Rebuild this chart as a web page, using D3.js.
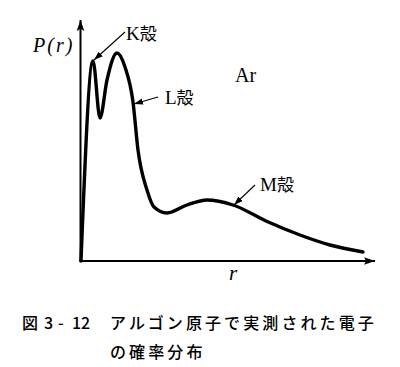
<!DOCTYPE html>
<html><head><meta charset="utf-8">
<script src="https://cdn.jsdelivr.net/npm/d3@7"></script>
<style>body{margin:0;background:#fff}svg{display:block}</style>
</head><body>
<svg id="c" width="400" height="367"></svg>
<script>
// radial distance r (arbitrary units) and probability P(r) (arbitrary units)
const rValues = [0, 12, 19, 26, 36, 44, 52, 57, 66, 73, 86, 106, 126, 152, 185, 219, 249, 282];
const pValues = [0, 200, 143, 181, 208, 194, 159, 111, 71, 54, 48, 56, 61, 56, 40, 26, 16, 9];
const shellLabels = ["K殻", "L殻", "M殻"];
const shellArrowFrom = [[44, 229], [77, 164], [174, 76]];
const shellArrowTo = [[13, 201], [53, 157], [153, 56]];
const shellTextAt = [[45, 221], [84, 157], [179, 70]];
const atomLabel = "Ar";
const atomAt = [154, 179];
const yLabel = "P(r)";
const xLabel = "r";
const captionNo = ["図", "3", "-", "12"];
const captionLines = ["アルゴン原子で実測された電子", "の確率分布"];

const svg = d3.select("#c");
const x = d3.scaleLinear().domain([0, 294]).range([81, 375]);
const y = d3.scaleLinear().domain([0, 241]).range([261, 20]);

const defs = svg.append("defs");
defs.append("marker").attr("id", "ah").attr("viewBox", "0 0 10 10")
  .attr("refX", 10).attr("refY", 5).attr("markerWidth", 9).attr("markerHeight", 9)
  .attr("markerUnits", "userSpaceOnUse").attr("orient", "auto")
  .append("path").attr("d", "M0,1.5L10,5L0,8.5Z").attr("fill", "#000");
defs.append("marker").attr("id", "ax").attr("viewBox", "0 0 10 10")
  .attr("refX", 10).attr("refY", 5).attr("markerWidth", 11).attr("markerHeight", 11)
  .attr("markerUnits", "userSpaceOnUse").attr("orient", "auto")
  .append("path").attr("d", "M0,1.5L10,5L0,8.5L2,5Z").attr("fill", "#000");

// axes
svg.append("line").attr("x1", x(0)-0.5).attr("y1", y(0)).attr("x2", x(0)-0.5).attr("y2", y(241))
  .attr("stroke", "#000").attr("stroke-width", 2).attr("marker-end", "url(#ax)");
svg.append("line").attr("x1", x(0)-1.5).attr("y1", y(0)).attr("x2", x(294)).attr("y2", y(0))
  .attr("stroke", "#000").attr("stroke-width", 2).attr("marker-end", "url(#ax)");

// curve
const pts = rValues.map((r, i) => [r, pValues[i]]);
const line = d3.line().x(d => x(d[0])).y(d => y(d[1])).curve(d3.curveMonotoneX);
svg.append("path").attr("d", line(pts)).attr("fill", "none").attr("stroke", "#000")
  .attr("stroke-width", 3.4).attr("stroke-linejoin", "round").attr("stroke-linecap", "round");

const serif = "'Liberation Serif', 'DejaVu Serif', serif";
// shell labels and arrows
shellLabels.forEach((s, i) => {
  svg.append("line").attr("x1", x(shellArrowFrom[i][0])).attr("y1", y(shellArrowFrom[i][1]))
    .attr("x2", x(shellArrowTo[i][0])).attr("y2", y(shellArrowTo[i][1]))
    .attr("stroke", "#000").attr("stroke-width", 1.1).attr("marker-end", "url(#ah)");
  const t = svg.append("text").attr("x", x(shellTextAt[i][0])).attr("y", y(shellTextAt[i][1]))
    .attr("font-size", 19).attr("fill", "#000");
  t.append("tspan").attr("font-family", serif).text(s[0]);
  t.append("tspan").attr("font-family", "Noto Sans CJK JP").attr("font-size", 17).text(s.slice(1));
});

svg.append("text").attr("x", x(atomAt[0])).attr("y", y(atomAt[1]))
  .attr("font-family", serif).attr("font-size", 20).text(atomLabel);

svg.append("text").attr("x", 33).attr("y", 52).attr("font-family", serif)
  .attr("font-style", "italic").attr("font-size", 20).attr("letter-spacing", 2).text(yLabel);
svg.append("text").attr("x", 229).attr("y", 280).attr("font-family", serif)
  .attr("font-style", "italic").attr("font-size", 21).text(xLabel);

// caption
const capNoX = [22, 44, 58, 72];
captionNo.forEach((c, i) => {
  svg.append("text").attr("x", capNoX[i]).attr("y", 329).attr("font-family", "Noto Sans CJK JP")
    .attr("font-weight", 500).attr("font-size", 16).text(c);
});
captionLines.forEach((c, i) => {
  svg.append("text").attr("x", 110).attr("y", 329 + i * 29).attr("font-family", "Noto Sans CJK JP")
    .attr("font-weight", 500).attr("font-size", 16).attr("letter-spacing", 3.1).text(c);
});
</script>
</body></html>
